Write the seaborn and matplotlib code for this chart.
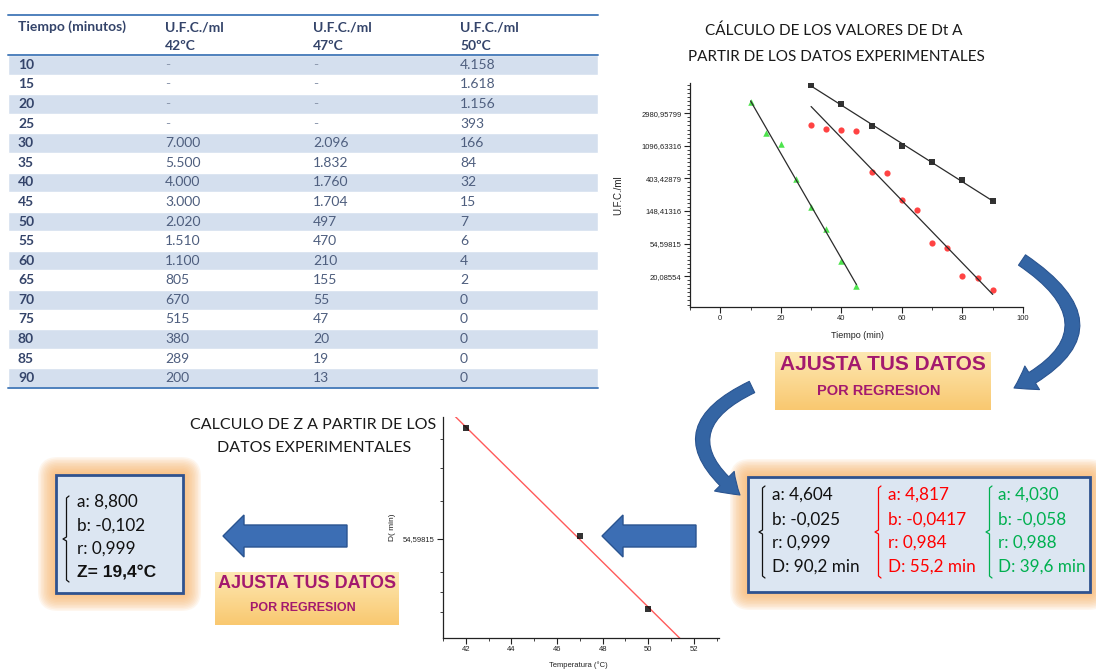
"""
Infografía: cálculo de Dt y de Z a partir de datos experimentales
"""

import numpy as np
import pandas as pd
import matplotlib
import matplotlib.pyplot as plt
import seaborn as sns
from matplotlib.patches import FancyArrow, FancyArrowPatch, FancyBboxPatch
from matplotlib.colors import LinearSegmentedColormap
from matplotlib.ticker import MultipleLocator, FixedLocator

matplotlib.use("Agg")

sns.set_theme(style="ticks")
plt.rcParams["font.family"] = ["Lato", "DejaVu Sans"]

W, H = 1096, 670

# ---- datos de la tabla ----
tiempo = [10, 15, 20, 25, 30, 35, 40, 45, 50, 55, 60, 65, 70, 75, 80, 85, 90]
ufc_42 = [None, None, None, None, 7000, 5500, 4000, 3000, 2020, 1510, 1100,
          805, 670, 515, 380, 289, 200]
ufc_47 = [None, None, None, None, 2096, 1832, 1760, 1704, 497, 470, 210,
          155, 55, 47, 20, 19, 13]
ufc_50 = [4158, 1618, 1156, 393, 166, 84, 32, 15, 7, 6, 4, 2, 0, 0, 0, 0, 0]
temperaturas = ["42ºC", "47ºC", "50ºC"]

# ---- resultados de la regresión ----
coef_nombres = ["a", "b", "r", "D"]
coef_42 = ["4,604", "-0,025", "0,999", "90,2 min"]
coef_47 = ["4,817", "-0,0417", "0,984", "55,2 min"]
coef_50 = ["4,030", "-0,058", "0,988", "39,6 min"]
coef_z = ["8,800", "-0,102", "0,999"]
valor_z = "19,4°C"

# ---- valores D frente a temperatura ----
temp_z = [42, 47, 50]
d_min = [90.2, 55.2, 39.6]

datos = pd.DataFrame({"tiempo": tiempo, "42ºC": ufc_42, "47ºC": ufc_47, "50ºC": ufc_50})
largo = datos.melt(id_vars="tiempo", var_name="temp", value_name="ufc").dropna()
largo = largo[largo.ufc > 0].copy()
largo["ln_ufc"] = np.log(largo.ufc.astype(float))

AZUL_TXT = "#34446A"
AZUL_VAL = "#4E5E7E"
MAGENTA = "#A3196E"
FUENTE_GRAF = ["Liberation Sans", "DejaVu Sans"]

fig = plt.figure(figsize=(W / 100, H / 100), dpi=100)


def ejes_px(x0, y0, x1, y1):
    return fig.add_axes([x0 / W, 1 - y1 / H, (x1 - x0) / W, (y1 - y0) / H])


def estilo_ejes(ax):
    sns.despine(ax=ax)
    ax.patch.set_alpha(0)
    for sp in ax.spines.values():
        sp.set_linewidth(0.9)
        sp.set_color("#222222")
    ax.tick_params(which="major", length=4, width=0.8, labelsize=5.5, pad=2,
                   colors="#222222")
    ax.tick_params(which="minor", length=2, width=0.6, colors="#222222")
    for lab in ax.get_xticklabels() + ax.get_yticklabels():
        lab.set_family(FUENTE_GRAF)
    ax.set_xlabel("")
    ax.set_ylabel("")


# ---- gráfica Dt (arriba derecha) ----
ax_dt = ejes_px(690, 83, 1023, 307)
estilos = {"42ºC": ("s", "black", 16), "47ºC": ("o", "#FF1414", 20), "50ºC": ("^", "#22DD22", 22)}
for temp, (marca, color, s) in estilos.items():
    d = largo[largo.temp == temp]
    if temp == "42ºC":
        # a 42ºC solo se representan los tiempos cada 10 min
        d = d[d.tiempo % 10 == 0]
    if temp == "50ºC":
        # en la gráfica solo aparecen los puntos hasta 45 min
        d = d[d.tiempo <= 45]
    sns.regplot(data=d, x="tiempo", y="ln_ufc", ax=ax_dt, ci=None, marker=marca, color=color,
                scatter_kws=dict(s=s, linewidths=0, zorder=2),
                line_kws=dict(color="#2B2B2B", lw=0.9, zorder=3))
ax_dt.set_xlim(-10, 100)
ax_dt.set_ylim(2.05, 8.93)
ax_dt.set_xticks(range(0, 101, 20))
ax_dt.xaxis.set_minor_locator(MultipleLocator(10))
ax_dt.set_yticks(range(3, 9))
ax_dt.set_yticklabels([f"{np.exp(k):.5f}".replace(".", ",") for k in range(3, 9)])
ax_dt.yaxis.set_minor_locator(MultipleLocator(0.125))
estilo_ejes(ax_dt)

# ---- gráfica Z (abajo centro) ----
ax_z = ejes_px(443, 417, 719, 638)
ax_z.set_xlim(41, 53.1)
ax_z.set_ylim(3.548, 4.553)
sns.regplot(x=temp_z, y=np.log(d_min), ax=ax_z, ci=None, truncate=False, marker="s",
            color="black", scatter_kws=dict(s=14, linewidths=0, zorder=3),
            line_kws=dict(color="#FF5A5A", lw=1, zorder=2))
ax_z.set_xlim(41, 53.1)
ax_z.set_ylim(3.548, 4.553)
ax_z.set_xticks(range(42, 53, 2))
ax_z.xaxis.set_minor_locator(MultipleLocator(1))
ax_z.set_yticks([4])
ax_z.set_yticklabels([f"{np.exp(4):.5f}".replace(".", ",")])
ax_z.yaxis.set_minor_locator(FixedLocator([3.666, 3.757, 3.847, 4.171, 4.320, 4.451]))
estilo_ejes(ax_z)

# ---- lienzo en píxeles para tabla, cajas y flechas ----
lienzo = fig.add_axes([0, 0, 1, 1])
lienzo.set_axis_off()
lienzo.patch.set_alpha(0)

# tabla
x_col = [18, 165, 313, 460]
y_cab, y_fin_cab, y_fin = 15, 55, 388
alto_fila = (y_fin - y_fin_cab) / len(tiempo)
centros = [y_fin_cab + (i + 0.5) * alto_fila for i in range(len(tiempo))]
lienzo.barh(centros[::2], width=590, left=8, height=alto_fila, color="#D4DFEE", zorder=1)
for yl in (y_cab, y_fin_cab, y_fin):
    lienzo.plot([8, 598], [yl, yl], color="#4F81BD", lw=1.4, zorder=2)
lienzo.text(x_col[0], 27, "Tiempo (minutos)", fontsize=10, fontweight="bold",
            color=AZUL_TXT, va="center")
for j, temp in enumerate(temperaturas):
    lienzo.text(x_col[j + 1], 27, "U.F.C./ml", fontsize=10, fontweight="bold",
                color=AZUL_TXT, va="center")
    lienzo.text(x_col[j + 1], 46, temp, fontsize=10, fontweight="bold",
                color=AZUL_TXT, va="center")


def fmt(v):
    if v is None or (isinstance(v, float) and np.isnan(v)):
        return "-"
    return f"{int(v):,}".replace(",", ".")


for i, t in enumerate(tiempo):
    yc = centros[i]
    lienzo.text(x_col[0], yc, str(t), fontsize=10, fontweight="bold", color=AZUL_TXT, va="center")
    for j, serie in enumerate([ufc_42, ufc_47, ufc_50]):
        txt = fmt(serie[i])
        lienzo.text(x_col[j + 1], yc, txt, fontsize=10, va="center",
                    color="#8C98AE" if txt == "-" else AZUL_VAL)

# títulos
lienzo.text(834, 31, "CÁLCULO DE LOS VALORES DE Dt A", fontsize=11, ha="center", va="center",
            color="#1A1A1A")
lienzo.text(836, 57, "PARTIR DE LOS DATOS EXPERIMENTALES", fontsize=11, ha="center",
            va="center", color="#1A1A1A")
lienzo.text(313, 425, "CALCULO DE Z A PARTIR DE LOS", fontsize=11.5, ha="center",
            va="center", color="#1A1A1A")
lienzo.text(314, 448, "DATOS EXPERIMENTALES", fontsize=11.5, ha="center", va="center",
            color="#1A1A1A")

# etiquetas de ejes
lienzo.text(618, 195, "U.F.C./ml", rotation=90, fontsize=7, ha="center", va="center",
            family=FUENTE_GRAF, color="#222222")
lienzo.text(857, 335, "Tiempo (min)", fontsize=6.5, ha="center", va="center",
            family=FUENTE_GRAF, color="#222222")
lienzo.text(392, 527, "D( min)", rotation=90, fontsize=6, ha="center", va="center",
            family=FUENTE_GRAF, color="#222222")
lienzo.text(578, 665, "Temperatura (°C)", fontsize=5.5, ha="center", va="center",
            family=FUENTE_GRAF, color="#222222")

# cajas "AJUSTA TUS DATOS"
naranja = LinearSegmentedColormap.from_list("naranja", ["#FDE8B2", "#F9C870"])


def caja_ajusta(x0, y0, x1, y1, fs1, fs2):
    grad = np.linspace(0, 1, 60).reshape(-1, 1)
    lienzo.imshow(grad, extent=(x0, x1, y1, y0), cmap=naranja, aspect="auto", zorder=2)
    ym = (y0 + y1) / 2
    lienzo.text((x0 + x1) / 2, ym - (y1 - y0) * 0.28, "AJUSTA TUS DATOS", fontsize=fs1,
                fontweight="bold", color=MAGENTA, ha="center", va="center",
                family=FUENTE_GRAF, zorder=3)
    lienzo.text((x0 + x1) / 2 - 4, ym + (y1 - y0) * 0.17, "POR REGRESION", fontsize=fs2,
                fontweight="bold", color=MAGENTA, ha="center", va="center",
                family=FUENTE_GRAF, zorder=3)


caja_ajusta(775, 352, 991, 410, 15, 10.5)
caja_ajusta(215, 572, 399, 625, 13, 9)


# cajas de resultados con resplandor
def caja_resultado(x0, y0, x1, y1):
    for k in range(12, 0, -1):
        p = k * 1.5
        lienzo.add_patch(FancyBboxPatch((x0 - p, y0 - p), x1 - x0 + 2 * p, y1 - y0 + 2 * p,
                                        boxstyle=f"round,pad=0,rounding_size={p + 2}",
                                        fc="#F9B46A", ec="none", alpha=0.11, zorder=1))
    lienzo.add_patch(FancyBboxPatch((x0, y0), x1 - x0, y1 - y0, boxstyle="square,pad=0",
                                    fc="#DCE6F2", ec="#2F528F", lw=2, zorder=2))


def llave(x, y0, y1, color):
    ym = (y0 + y1) / 2
    lienzo.plot([x + 5, x + 2.5, x + 2.5, x - 1, x + 2.5, x + 2.5, x + 5],
                [y0, y0 + 2, ym - 2, ym, ym + 2, y1 - 2, y1], color=color, lw=0.9, zorder=3)


caja_resultado(748, 477, 1090, 592)
filas_d = [495, 520, 543, 567]
for x_llave, x_txt, valores, color in [(760, 772, coef_42, "#111111"),
                                       (876, 888, coef_47, "#FF0000"),
                                       (987, 998, coef_50, "#00B050")]:
    llave(x_llave, 486, 578, color)
    for nombre, val, yc in zip(coef_nombres, valores, filas_d):
        lienzo.text(x_txt, yc, f"{nombre}: {val}", fontsize=12.3, color=color, va="center",
                    zorder=3)

caja_resultado(56, 475, 183, 593)
llave(64, 496, 582, "#111111")
filas_z = [502, 526, 549]
for nombre, val, yc in zip(coef_nombres, coef_z, filas_z):
    lienzo.text(77, yc, f"{nombre}: {val}", fontsize=12.3, color="#111111", va="center", zorder=3)
lienzo.text(77, 573, f"Z= {valor_z}", fontsize=12.5, fontweight="bold", color="#111111",
            va="center", family=FUENTE_GRAF, zorder=3)

# flechas
for x_cola, x_punta, y in [(696, 602, 536), (347, 223, 536)]:
    lienzo.add_patch(FancyArrow(x_cola, y, x_punta - x_cola, 0, width=22, head_width=42,
                                head_length=21, length_includes_head=True,
                                fc="#3C6EB4", ec="#2A5490", lw=1, zorder=4))

estilo_arco = "simple,head_width=2.0,head_length=1.5,tail_width=0.9"
lienzo.add_patch(FancyArrowPatch((1022, 260), (1014, 388), connectionstyle="arc3,rad=-0.85",
                                 arrowstyle=estilo_arco, mutation_scale=10, shrinkA=0, shrinkB=0,
                                 fc="#3465A4", ec="#2A5490", lw=0.8, zorder=4))
lienzo.add_patch(FancyArrowPatch((752, 387), (740, 495), connectionstyle="arc3,rad=0.8",
                                 arrowstyle=estilo_arco, mutation_scale=10, shrinkA=0, shrinkB=0,
                                 fc="#3465A4", ec="#2A5490", lw=0.8, zorder=4))

lienzo.set_xlim(0, W)
lienzo.set_ylim(H, 0)

fig.savefig("out.png", dpi=100)
